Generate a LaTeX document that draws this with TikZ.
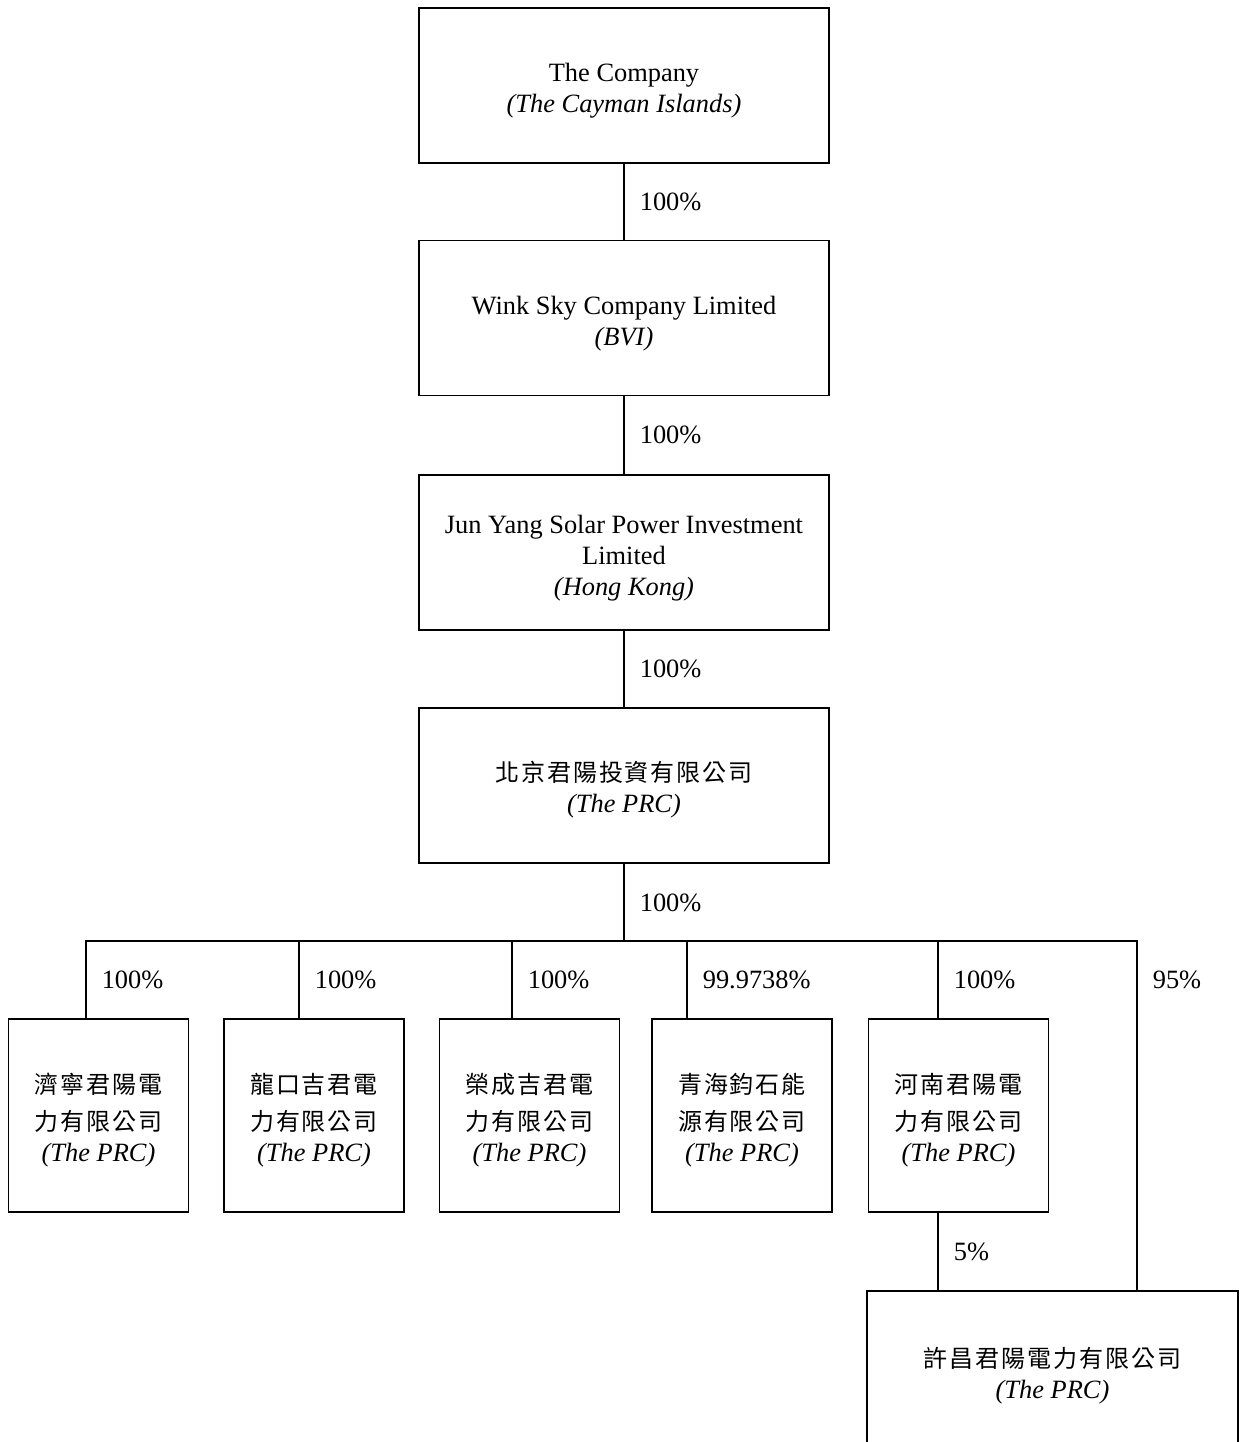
\documentclass[tikz,border=0pt]{standalone}
\usepackage{fontspec}
\setmainfont{Liberation Serif}
\newfontfamily\cjk[LetterSpace=8]{Noto Sans CJK TC}
\newcommand{\zh}[1]{{\cjk\fontsize{12pt}{15.5pt}\selectfont #1}}
\newcommand{\lift}{\rule{0pt}{14.5pt}}

\begin{document}
\begin{tikzpicture}[x=0.5pt, y=-0.5pt, thick,
        main/.style = {draw, rectangle, align=center, inner sep=0pt, font=\fontsize{13.2pt}{15.5pt}\selectfont, minimum width=205pt, minimum height=77.5pt},
        sub/.style = {main, minimum width=90pt, minimum height=96.5pt},
        pct/.style = {midway, right, inner sep=0pt, xshift=7.5pt, font=\fontsize{13.2pt}{15.5pt}\selectfont}]
        \useasboundingbox (0,0) rectangle (1242,1442);

        \node[main] (co) at (624,85.5) {\lift The Company\\ \textit{(The Cayman Islands)}};
        \node[main] (wink) at (624,318) {\lift Wink Sky Company Limited\\ \textit{(BVI)}};
        \node[main] (junyang) at (624,552.5) {\lift Jun Yang Solar Power Investment\\ Limited\\ \textit{(Hong Kong)}};
        \node[main] (beijing) at (624,785.5) {\lift\zh{北京君陽投資有限公司}\\ \textit{(The PRC)}};

        \node[sub] (jining) at (98.5,1115.5) {\lift\zh{濟寧君陽電}\\[3pt] \zh{力有限公司}\\ \textit{(The PRC)}};
        \node[sub] (longkou) at (314,1115.5) {\lift\zh{龍口吉君電}\\[3pt] \zh{力有限公司}\\ \textit{(The PRC)}};
        \node[sub] (rongcheng) at (529.5,1115.5) {\lift\zh{榮成吉君電}\\[3pt] \zh{力有限公司}\\ \textit{(The PRC)}};
        \node[sub] (qinghai) at (742,1115.5) {\lift\zh{青海鈞石能}\\[3pt] \zh{源有限公司}\\ \textit{(The PRC)}};
        \node[sub] (henan) at (958.5,1115.5) {\lift\zh{河南君陽電}\\[3pt] \zh{力有限公司}\\ \textit{(The PRC)}};
        \node[main, minimum width=185.5pt, minimum height=80pt] (xuchang) at (1052.5,1371) {\lift\zh{許昌君陽電力有限公司}\\ \textit{(The PRC)}};

        \coordinate (b0) at (624,941);
        \coordinate (b1) at (86,941);
        \coordinate (b2) at (299,941);
        \coordinate (b3) at (512,941);
        \coordinate (b4) at (687,941);
        \coordinate (b5) at (938,941);
        \coordinate (b6) at (1137,941);

        \draw (co) -- (wink) node [pct] {100\%};
        \draw (wink) -- (junyang) node [pct] {100\%};
        \draw (junyang) -- (beijing) node [pct] {100\%};
        \draw (beijing) -- (b0) node [pct] {100\%};

        \draw (jining.north -| b1) -- (b1) node [pct] {100\%} -- (b6) -- (xuchang.north -| b6) node [pct, pos=0.11] {95\%};
        \draw (b2) -- (longkou.north -| b2) node [pct] {100\%};
        \draw (b3) -- (rongcheng.north -| b3) node [pct] {100\%};
        \draw (b4) -- (qinghai.north -| b4) node [pct] {99.9738\%};
        \draw (b5) -- (henan.north -| b5) node [pct] {100\%};
        \draw (henan.south -| b5) -- (xuchang.north -| b5) node [pct] {5\%};

    \end{tikzpicture}
\end{document}
